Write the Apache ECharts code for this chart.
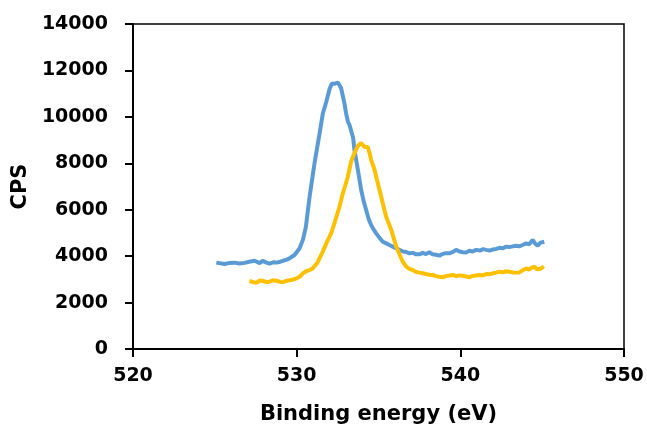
<!DOCTYPE html>
<html>
<head>
<meta charset="utf-8">
<script src="https://cdn.jsdelivr.net/npm/echarts@6/dist/echarts.min.js"></script>
<style>
html,body{margin:0;padding:0;background:#fff;}
#chart{width:647px;height:434px;}
</style>
</head>
<body>
<div id="chart"></div>
<script>
// Binding energy (eV) and CPS for the two spectra
var blueEnergy = [525.09,525.60,525.85,526.21,526.50,526.82,527.10,527.43,527.74,527.92,528.15,528.35,528.60,528.77,529.00,529.16,529.40,529.57,529.87,530.18,530.38,530.56,530.79,531.09,531.40,531.60,531.81,532.01,532.15,532.30,532.40,532.52,532.62,532.72,532.82,532.92,533.02,533.13,533.23,533.33,533.45,533.53,533.74,533.94,534.10,534.25,534.40,534.55,534.70,534.86,535.05,535.26,535.45,535.67,535.90,536.10,536.28,536.50,536.70,536.89,537.10,537.30,537.50,537.70,537.90,538.11,538.30,538.50,538.72,538.90,539.10,539.33,539.55,539.74,539.95,540.15,540.35,540.55,540.75,540.96,541.20,541.40,541.58,541.80,542.00,542.19,542.40,542.60,542.80,543.00,543.20,543.41,543.60,543.80,544.02,544.20,544.42,544.55,544.73,544.90,545.13];
var blueCps = [3720,3660,3700,3720,3680,3710,3760,3800,3700,3800,3720,3680,3740,3720,3760,3800,3850,3910,4050,4340,4700,5250,6560,8000,9290,10150,10650,11200,11440,11420,11380,11480,11420,11230,10900,10580,10150,9800,9650,9570,9100,8580,7720,6850,6350,5980,5600,5340,5150,4980,4800,4620,4560,4480,4400,4330,4270,4200,4180,4120,4140,4080,4080,4140,4090,4170,4080,4060,4020,4090,4130,4120,4180,4270,4200,4170,4160,4230,4200,4270,4240,4300,4270,4240,4290,4310,4360,4340,4410,4390,4420,4450,4420,4480,4550,4510,4700,4560,4450,4580,4620];

var yellowEnergy = [527.12,527.35,527.53,527.75,527.92,528.15,528.35,528.55,528.77,529.00,529.16,529.40,529.57,529.80,529.98,530.20,530.38,530.60,530.79,531.00,531.09,531.25,531.40,531.60,531.81,532.11,532.31,532.45,532.62,532.82,532.95,533.13,533.33,533.53,533.74,533.85,533.94,534.05,534.15,534.25,534.35,534.45,534.55,534.76,534.90,535.06,535.26,535.47,535.78,536.08,536.30,536.48,536.70,536.89,537.09,537.30,537.50,537.70,537.90,538.11,538.32,538.50,538.72,538.93,539.15,539.35,539.54,539.75,539.95,540.15,540.35,540.56,540.75,540.96,541.17,541.40,541.58,541.78,542.00,542.19,542.39,542.60,542.80,543.00,543.20,543.41,543.61,543.80,544.02,544.20,544.35,544.52,544.70,544.82,544.95,545.09];
var yellowCps = [2930,2880,2850,2950,2940,2880,2900,2960,2940,2890,2880,2940,2960,2990,3040,3120,3260,3360,3400,3480,3570,3700,3910,4200,4550,4990,5420,5750,6130,6710,7000,7430,8080,8440,8750,8830,8870,8820,8700,8720,8700,8450,8150,7720,7300,6860,6280,5700,5130,4420,4050,3760,3550,3450,3400,3320,3290,3260,3230,3200,3190,3140,3110,3090,3150,3170,3190,3140,3170,3160,3120,3090,3150,3170,3190,3180,3230,3220,3260,3290,3330,3300,3350,3330,3300,3290,3300,3390,3470,3420,3500,3540,3430,3360,3470,3570];

var xTicks = [520, 530, 540, 550];
var yTicks = [0, 2000, 4000, 6000, 8000, 10000, 12000, 14000];

function zip(a, b) { return a.map(function (v, i) { return [v, b[i]]; }); }

var font = 'DejaVu Sans';
var chart = echarts.init(document.getElementById('chart'), null, {renderer: 'canvas'});
chart.setOption({
  animation: false,
  backgroundColor: '#ffffff',
  grid: {
    left: 133, right: 23, top: 24, bottom: 85,
    containLabel: false, outerBoundsMode: 'none',
    show: true, borderColor: '#000', borderWidth: 1.5, backgroundColor: 'transparent'
  },
  xAxis: {
    type: 'value',
    min: xTicks[0], max: xTicks[xTicks.length - 1], interval: 10,
    name: 'Binding energy (eV)',
    nameLocation: 'middle', nameGap: 55,
    nameTextStyle: {fontFamily: font, fontWeight: 'bold', fontSize: 21, color: '#000'},
    axisLine: {show: true, lineStyle: {color: '#000', width: 2}},
    axisTick: {show: true, inside: false, length: 8, lineStyle: {color: '#000', width: 2}},
    axisLabel: {fontFamily: font, fontWeight: 'bold', fontSize: 19, color: '#000', margin: 18,
      formatter: function (v) { return String(v); }},
    splitLine: {show: false}
  },
  yAxis: {
    type: 'value',
    min: yTicks[0], max: yTicks[yTicks.length - 1], interval: 2000,
    name: 'CPS',
    nameLocation: 'middle', nameGap: 85,
    nameTextStyle: {fontFamily: font, fontWeight: 'bold', fontSize: 21, color: '#000'},
    axisLine: {show: true, lineStyle: {color: '#000', width: 2}},
    axisTick: {show: true, inside: false, length: 8, lineStyle: {color: '#000', width: 2}},
    axisLabel: {fontFamily: font, fontWeight: 'bold', fontSize: 19, color: '#000', margin: 25,
      formatter: function (v) { return String(v); }},
    splitLine: {show: false}
  },
  series: [
    {
      type: 'line', data: zip(blueEnergy, blueCps), showSymbol: false, smooth: false,
      lineStyle: {color: '#5B9BD5', width: 4}, itemStyle: {color: '#5B9BD5'}
    },
    {
      type: 'line', data: zip(yellowEnergy, yellowCps), showSymbol: false, smooth: false,
      lineStyle: {color: '#FFC000', width: 4}, itemStyle: {color: '#FFC000'}
    }
  ]
});
</script>
</body>
</html>
